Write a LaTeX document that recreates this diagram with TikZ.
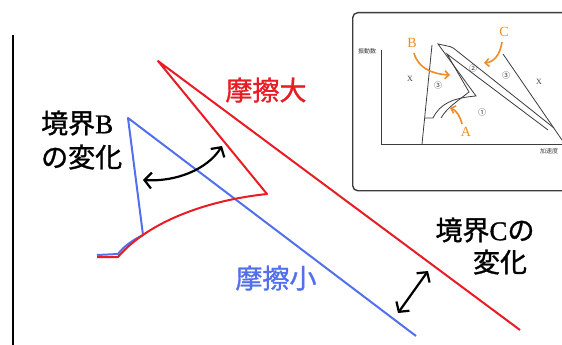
\documentclass[tikz,border=0pt]{standalone}
\usepackage{fontspec}
\setmainfont{Liberation Serif}
\newfontfamily\jpfont{Noto Sans CJK JP}
\newfontfamily\jpbold[FakeBold=1.2]{Noto Sans CJK JP}
\newfontfamily\serbold[FakeBold=1.2]{Liberation Serif}
\usetikzlibrary{arrows.meta}
\definecolor{fred}{RGB}{232,28,36}
\definecolor{fblue}{RGB}{82,112,238}
\definecolor{forange}{RGB}{240,140,40}
\definecolor{fgray}{RGB}{60,60,60}
\tikzset{
  redline/.style={draw=fred,line width=2pt,line join=round},
  blueline/.style={draw=fblue,line width=2pt,line join=round},
  bigarrow/.style={draw=black,line width=2.2pt,{Straight Barb[length=7pt,width=16pt,line width=2.2pt]}-{Straight Barb[length=7pt,width=16pt,line width=2.2pt]}},
  orarrow/.style={draw=forange,line width=1.6pt,-{Straight Barb[length=4pt,width=8pt,line width=1.6pt]}},
  biglabel/.style={font=\jpbold\fontsize{27}{34}\selectfont,inner sep=0pt},
  thin/.style={draw=fgray,line width=0.8pt},
  tinylabel/.style={font=\jpfont\fontsize{6}{7}\selectfont,text=fgray,inner sep=0pt},
  numlabel/.style={font=\jpfont\fontsize{8}{9}\selectfont,text=fgray,inner sep=0pt},
  xlabel/.style={font=\fontsize{8}{9}\selectfont,text=fgray,inner sep=0pt},
  orlabel/.style={font=\fontsize{14}{16}\selectfont,text=forange,inner sep=0pt}
}
\begin{document}
\begin{tikzpicture}[x=1pt,y=-1pt]
\useasboundingbox (0,0) rectangle (562,345);
\clip (0,0) rectangle (562,345);
\fill[white] (0,0) rectangle (562,345);
% left axis
\coordinate (ax1) at (13,35);
\coordinate (ax2) at (13,345);
\draw[line width=2pt] (ax1) -- (ax2);
% blue curve (friction small)
\coordinate (bA) at (128,118);
\coordinate (bB) at (143,235);
\coordinate (bC) at (118,254);
\coordinate (bD) at (97,255);
\coordinate (bE) at (416,336);
\draw[blueline] (bE) -- (bA) -- (bB) .. controls (133,240) and (124,246) .. (bC) -- (bD);
% red curve (friction large)
\coordinate (rA) at (158,61);
\coordinate (rB) at (267,194);
\coordinate (rC) at (118,257);
\coordinate (rD) at (97,257);
\coordinate (rE) at (520,330);
\draw[redline] (rE) -- (rA) -- (rB) .. controls (210,200) and (150,220) .. (rC) -- (rD);
% arrows
\coordinate (aB1) at (143,180);
\coordinate (aB2) at (222,146);
\draw[bigarrow] (aB1) .. controls (175,182) and (207,170) .. (aB2);
\coordinate (aC1) at (398,313);
\coordinate (aC2) at (428,271);
\draw[bigarrow] (aC1) -- (aC2);
% labels
\node[biglabel,text=fred] (lbig) at (266,90) {摩擦大};
\node[biglabel,text=fblue] (lsmall) at (276,278) {摩擦小};
\node[biglabel,align=left,anchor=west] (lB) at (41,140) {境界{\serbold B}\\の変化};
\node[biglabel] (lC1) at (485,230) {境界{\serbold C}の};
\node[biglabel] (lC2) at (500,262) {変化};
% inset
\node[draw=fgray,line width=1.4pt,rounded corners=5pt,fill=white,minimum width=226pt,minimum height=178pt,anchor=north west,inner sep=0pt] (inset) at (352,12) {};
\coordinate (iy) at (381,50);
\coordinate (io) at (381,144);
\coordinate (ix) at (562,144);
\draw[thin] (iy) -- (io) -- (ix);
\node[tinylabel] (tvib) at (367,51) {振動数};
\node[tinylabel] (tacc) at (549,151) {加速度};
\coordinate (iL1) at (422,144);
\coordinate (iL2) at (432,45);
\draw[thin] (iL1) -- (iL2);
\coordinate (iH1) at (425,118);
\coordinate (iH2) at (433,118);
\draw[thin] (iH1) -- (iH2) .. controls (440,104) and (452,98) .. (476,96) -- (438,44) [rounded corners=2pt] -- (452,47) [sharp corners] -- (554,128);
\coordinate (iI1) at (441,118);
\draw[thin] (iI1) .. controls (447,108) and (455,103) .. (469,92) -- (447,54) -- (548,130);
\coordinate (iR1) at (503,54);
\coordinate (iR2) at (562,140);
\draw[thin] (iR1) -- (iR2);
\node[xlabel] (x1) at (410,79) {X};
\node[xlabel] (x2) at (539,82) {X};
\node[numlabel] (n3a) at (438,85) {③};
\node[numlabel] (n2) at (473,68) {②};
\node[numlabel] (n3b) at (506,75) {③};
\node[numlabel] (n1) at (482,112) {①};
\node[orlabel] (oB) at (412,43) {B};
\node[orlabel] (oC) at (504,32) {C};
\node[orlabel] (oA) at (466,132) {A};
\coordinate (oBs) at (414,53);
\coordinate (oBe) at (450,75);
\draw[orarrow] (oBs) .. controls (418,68) and (432,74) .. (oBe);
\coordinate (oCs) at (502,42);
\coordinate (oCe) at (484,63);
\draw[orarrow] (oCs) .. controls (500,55) and (494,62) .. (oCe);
\coordinate (oAs) at (462,124);
\coordinate (oAe) at (450,108);
\draw[orarrow] (oAs) .. controls (460,116) and (456,110) .. (oAe);
\end{tikzpicture}
\end{document}
